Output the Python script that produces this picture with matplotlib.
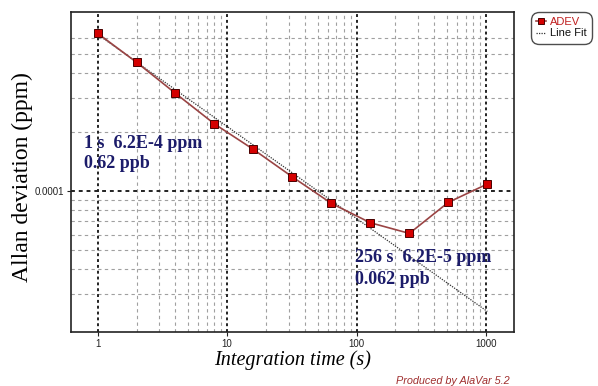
import matplotlib
matplotlib.use("Agg")
import matplotlib.pyplot as plt
from matplotlib.ticker import FixedLocator, NullFormatter, NullLocator

# ---- data ----
tau = [1, 2, 4, 8, 16, 32, 64, 128, 256, 512, 1024]
adev = [6.38e-4, 4.54e-4, 3.15e-4, 2.20e-4, 1.63e-4, 1.18e-4, 8.65e-5, 6.89e-5, 6.08e-5, 8.76e-5, 1.086e-4]
fit_tau = [1, 1024]
fit_adev = [6.3e-4, 2.43e-5]
x_major = [1, 10, 100, 1000]
x_major_labels = ["1", "10", "100", "1000"]
x_minor = [2, 3, 4, 5, 6, 7, 8, 9, 20, 30, 40, 50, 60, 70, 80, 90,
           200, 300, 400, 500, 600, 700, 800, 900]
y_major = [1e-4]
y_major_labels = ["0.0001"]
y_minor = [3e-5, 4e-5, 5e-5, 6e-5, 7e-5, 8e-5, 9e-5, 2e-4, 3e-4, 4e-4, 5e-4, 6e-4]

fig = plt.figure(figsize=(5.98, 3.86), dpi=100)
ax = fig.add_axes([71/598, 1-332/386, (514-71)/598, (332-12)/386])
ax.set_xscale("log")
ax.set_yscale("log")
ax.set_xlim(0.624, 1645)
ax.set_ylim(1.91e-5, 8.19e-4)

# grid lines
for v in x_minor:
    ax.axvline(v, color="#a0a0a0", lw=0.8, ls=(0, (3, 3)), zorder=1)
for v in y_minor:
    ax.axhline(v, color="#a0a0a0", lw=0.8, ls=(0, (3, 3)), zorder=1)
for v in x_major:
    ax.axvline(v, color="#222222", lw=1.4, ls=(0, (1.5, 1.5)), zorder=1)
for v in y_major:
    ax.axhline(v, color="#222222", lw=1.4, ls=(0, (2, 2)), zorder=1)

fit_line, = ax.plot(fit_tau, fit_adev, color="#333333", lw=0.9, ls=(0, (1, 1)), zorder=3,
                    label="Line Fit")
adev_line, = ax.plot(tau, adev, color="#9a4444", lw=1.2, marker="s", ms=5.5,
                     mfc="#d40000", mec="#4a0000", mew=0.7, zorder=4, label="ADEV")

ax.xaxis.set_major_locator(FixedLocator(x_major))
ax.set_xticklabels(x_major_labels)
ax.xaxis.set_minor_locator(NullLocator())
ax.xaxis.set_minor_formatter(NullFormatter())
ax.yaxis.set_major_locator(FixedLocator(y_major))
ax.set_yticklabels(y_major_labels)
ax.yaxis.set_minor_locator(NullLocator())
ax.yaxis.set_minor_formatter(NullFormatter())
ax.tick_params(axis="both", labelsize=7, length=3, width=0.8, colors="#222222", pad=2)
for lab in ax.get_xticklabels() + ax.get_yticklabels():
    lab.set_fontfamily("Liberation Sans")

for s in ax.spines.values():
    s.set_linewidth(1.2)
    s.set_color("#222222")

ax.set_xlabel("Integration time (s)", fontfamily="Liberation Serif", fontstyle="italic",
              fontsize=14.5, labelpad=1)
fig.text(22/598, 1-177/386, "Allan deviation (ppm)", rotation=90, ha="center", va="center",
         fontfamily="Liberation Serif", fontsize=17)

navy = "#1c1c6a"
fs_ann = 13
fig.text(84/598, 1-143/386, "1 s  6.2E-4 ppm", ha="left", va="center", color=navy,
         fontfamily="Liberation Serif", fontweight="bold", fontsize=fs_ann)
fig.text(84/598, 1-164/386, "0.62 ppb", ha="left", va="center", color=navy,
         fontfamily="Liberation Serif", fontweight="bold", fontsize=fs_ann)
fig.text(355/598, 1-258/386, "256 s  6.2E-5 ppm", ha="left", va="center", color=navy,
         fontfamily="Liberation Serif", fontweight="bold", fontsize=fs_ann)
fig.text(355/598, 1-279/386, "0.062 ppb", ha="left", va="center", color=navy,
         fontfamily="Liberation Serif", fontweight="bold", fontsize=fs_ann)

leg = ax.legend(handles=[adev_line, fit_line], loc="upper left",
                bbox_to_anchor=(533/598, 1-14/386), bbox_transform=fig.transFigure,
                frameon=True, fancybox=True, handlelength=0.9, markerscale=0.8,
                handletextpad=0.3, borderpad=0.3, labelspacing=0.1, borderaxespad=0,
                prop={"family": "Liberation Sans", "size": 8})
leg.get_frame().set_edgecolor("#222222")
leg.get_frame().set_linewidth(1.0)
leg.get_frame().set_boxstyle("round", pad=0.2, rounding_size=0.7)
for t in leg.get_texts():
    if t.get_text() == "ADEV":
        t.set_color("#c02020")
    else:
        t.set_color("#111111")

fig.text(510/598, 1-381/386, "Produced by AlaVar 5.2", ha="right", va="center",
         color="#a03030", fontstyle="italic", fontfamily="Liberation Sans", fontsize=7.8)

fig.savefig("out.png", dpi=100, facecolor="white")
